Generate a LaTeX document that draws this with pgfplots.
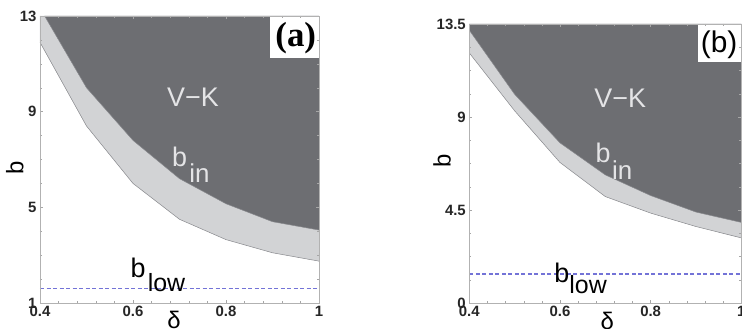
\documentclass[border=0pt]{standalone}
\usepackage{fontspec}
\setmainfont{Liberation Sans}
\newfontfamily\timesfont{Liberation Serif}
\usepackage{pgfplots}
\pgfplotsset{compat=1.18}
\definecolor{darkreg}{RGB}{109,110,114}
\definecolor{lightreg}{RGB}{210,211,213}
\definecolor{edgegray}{RGB}{135,136,140}
\definecolor{lowblue}{RGB}{115,115,215}
\definecolor{labelgray}{RGB}{228,228,230}
\pgfplotsset{
 panel/.style={
  scale only axis, xmin=0.4, xmax=1,
  axis line style={draw=gray!60, line width=0.5bp},
  tick style={gray!70, line width=0.4bp},
  major tick length=3bp, minor tick length=2bp,
  tick align=inside,
  xtick={0.4,0.6,0.8,1}, xticklabels={0.4,0.6,0.8,1},
  minor x tick num=4,
  tick label style={font=\bfseries\fontsize{15}{15}\selectfont, text=black!85},
  /pgf/number format/assume math mode=true,
  xlabel={δ}, ylabel={b},
  label style={font=\fontsize{24}{24}\selectfont},
  axis on top,
 }
}
\begin{document}
\begin{tikzpicture}
\useasboundingbox (0,0) rectangle (742bp,329bp);
% ---------------- panel (a)
\begin{axis}[panel, at={(40bp,26bp)}, anchor=south west, width=279bp, height=287bp,
  ymin=1, ymax=13, ytick={1,5,9,13}, yticklabels={1,5,9,13}, minor y tick num=3,
  xlabel style={at={(axis description cs:0.48,-0.06)}, anchor=center},
  ylabel style={at={(axis description cs:-0.09,0.47)}, anchor=center}]
\addplot[fill=lightreg, draw=none] coordinates {(0.4,11.9) (0.5,8.4) (0.6,6.0) (0.7,4.5) (0.8,3.65) (0.9,3.1) (1,2.75) (1,13) (0.4,13)} -- cycle;
\addplot[fill=darkreg, draw=none] coordinates {(0.41,13) (0.5,10) (0.6,7.8) (0.7,6.2) (0.8,5.15) (0.9,4.4) (1,4.05) (1,13)} -- cycle;
\addplot[edgegray, line width=0.5bp] coordinates {(0.4,11.9) (0.5,8.4) (0.6,6.0) (0.7,4.5) (0.8,3.65) (0.9,3.1) (1,2.75)};
\addplot[edgegray, line width=0.5bp] coordinates {(0.41,13) (0.5,10) (0.6,7.8) (0.7,6.2) (0.8,5.15) (0.9,4.4) (1,4.05)};
\addplot[lowblue, line width=1.2bp, dash pattern=on 4bp off 2.5bp] coordinates {(0.4,1.6) (1,1.6)};
\fill[white] (axis cs:0.895,13) rectangle (axis cs:1,11.24);
\node[font=\timesfont\bfseries\fontsize{35}{35}\selectfont] at (axis cs:0.95,12.08) {(a)};
\node[text=labelgray, font=\fontsize{27}{27}\selectfont] at (axis cs:0.729,9.61) {V−K};
\node[text=labelgray, font=\fontsize{27}{27}\selectfont] at (axis cs:0.700,7.1) {b};
\node[text=labelgray, font=\fontsize{26}{26}\selectfont] at (axis cs:0.743,6.44) {in};
\node[font=\fontsize{27}{27}\selectfont] at (axis cs:0.611,2.46) {b};
\node[font=\fontsize{25}{25}\selectfont] at (axis cs:0.672,1.84) {low};
\end{axis}
% ---------------- panel (b)
\begin{axis}[panel, at={(469.3bp,26bp)}, anchor=south west, width=272bp, height=279bp,
  ymin=0, ymax=13.5, ytick={0,4.5,9,13.5}, yticklabels={0,4.5,9,13.5}, minor y tick num=3,
  xlabel style={at={(axis description cs:0.507,-0.065)}, anchor=center},
  ylabel style={at={(axis description cs:-0.1,0.51)}, anchor=center}]
\addplot[fill=lightreg, draw=none] coordinates {(0.4,12.1) (0.5,9.3) (0.6,6.8) (0.7,5.15) (0.8,4.35) (0.9,3.7) (1,3.15) (1,13.5) (0.4,13.5)} -- cycle;
\addplot[fill=darkreg, draw=none] coordinates {(0.4,13.5) (0.4,13.2) (0.5,10.1) (0.6,7.75) (0.7,6.2) (0.8,5.2) (0.9,4.4) (1,3.9) (1,13.5)} -- cycle;
\addplot[edgegray, line width=0.5bp] coordinates {(0.4,12.1) (0.5,9.3) (0.6,6.8) (0.7,5.15) (0.8,4.35) (0.9,3.7) (1,3.15)};
\addplot[edgegray, line width=0.5bp] coordinates {(0.4,13.2) (0.5,10.1) (0.6,7.75) (0.7,6.2) (0.8,5.2) (0.9,4.4) (1,3.9)};
\addplot[lowblue, line width=1.2bp, dash pattern=on 4bp off 2.5bp] coordinates {(0.4,1.4) (1,1.4)};
\fill[white] (axis cs:0.905,13.5) rectangle (axis cs:1,11.66);
\node[font=\fontsize{30}{30}\selectfont] at (axis cs:0.951,12.48) {(b)};
\node[text=labelgray, font=\fontsize{27}{27}\selectfont] at (axis cs:0.733,9.91) {V−K};
\node[text=labelgray, font=\fontsize{27}{27}\selectfont] at (axis cs:0.695,7.25) {b};
\node[text=labelgray, font=\fontsize{26}{26}\selectfont] at (axis cs:0.737,6.44) {in};
\node[font=\fontsize{27}{27}\selectfont] at (axis cs:0.604,1.45) {b};
\node[font=\fontsize{25}{25}\selectfont] at (axis cs:0.662,0.885) {low};
\end{axis}
\end{tikzpicture}
\end{document}
